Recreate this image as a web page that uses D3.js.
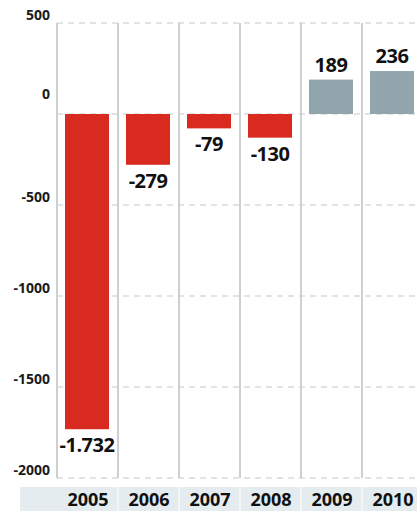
<!DOCTYPE html>
<html>
<head>
<meta charset="utf-8">
<script src="https://cdn.jsdelivr.net/npm/d3@7"></script>
<style>
  html, body { margin: 0; padding: 0; background: #fff; }
  svg { display: block; font-family: "Open Sans", sans-serif; }
</style>
</head>
<body>
<script>
// data
const years = ['2005', '2006', '2007', '2008', '2009', '2010'];
const values = [-1732, -279, -79, -130, 189, 236];
const yTicks = [500, 0, -500, -1000, -1500, -2000];

const width = 417;
const height = 511;

const svg = d3.select('body').append('svg')
  .attr('width', width)
  .attr('height', height);

// scales
const x = d3.scaleBand().domain(years).range([57, 57 + 61 * years.length]).padding(0);
const y = d3.scaleLinear().domain([-2000, 500]).range([478, 23]);

// european grouping, plain hyphen for minus
const fmt = d3.formatLocale({ decimal: ',', thousands: '.', grouping: [3], currency: ['', '€'], minus: '-' }).format(',d');

// bottom band for year labels
svg.append('rect')
  .attr('x', 20).attr('y', 487)
  .attr('width', width - 20).attr('height', height - 487)
  .attr('fill', '#e4ecef');

svg.append('g').selectAll('line')
  .data(years.slice(1))
  .join('line')
  .attr('x1', d => x(d)).attr('x2', d => x(d))
  .attr('y1', 487).attr('y2', height)
  .attr('stroke', '#f3f6f7').attr('stroke-width', 2);

// horizontal dashed grid
svg.append('g').selectAll('line')
  .data(yTicks)
  .join('line')
  .attr('x1', x.range()[0]).attr('x2', width)
  .attr('y1', d => y(d)).attr('y2', d => y(d))
  .attr('stroke', '#c4c7c9')
  .attr('stroke-width', 1.2)
  .attr('stroke-dasharray', '6,5');

// vertical column lines
svg.append('g').selectAll('line')
  .data(years)
  .join('line')
  .attr('x1', d => x(d)).attr('x2', d => x(d))
  .attr('y1', y(500)).attr('y2', y(-2000))
  .attr('stroke', '#cdd0d2')
  .attr('stroke-width', 2);

// y labels
svg.append('g').selectAll('text')
  .data(yTicks)
  .join('text')
  .attr('x', 50)
  .attr('y', d => y(d) + (d === 0 ? -15 : -3))
  .attr('text-anchor', 'end')
  .attr('font-size', 14)
  .attr('font-weight', 700)
  .attr('fill', '#1a1a1a')
  .text(d => d);

// bars
const inset = 8;
svg.append('g').selectAll('rect')
  .data(values)
  .join('rect')
  .attr('x', (d, i) => x(years[i]) + inset)
  .attr('width', x.bandwidth() - inset * 2 - 1)
  .attr('y', d => y(Math.max(0, d)))
  .attr('height', d => Math.abs(y(d) - y(0)))
  .attr('fill', d => d < 0 ? '#d92a1f' : '#91a5ac');

// value labels
svg.append('g').selectAll('text')
  .data(values)
  .join('text')
  .attr('x', (d, i) => x(years[i]) + x.bandwidth() / 2 - 0.5)
  .attr('y', d => d < 0 ? y(d) + 23 : y(d) - 8)
  .attr('text-anchor', 'middle')
  .attr('font-size', 20)
  .attr('font-weight', 700)
  .attr('letter-spacing', -0.5)
  .attr('fill', '#111')
  .text(d => fmt(d));

// year labels
svg.append('g').selectAll('text')
  .data(years)
  .join('text')
  .attr('x', d => x(d) + x.bandwidth() / 2 + 0.5)
  .attr('y', 506)
  .attr('text-anchor', 'middle')
  .attr('font-size', 18)
  .attr('font-weight', 700)
  .attr('fill', '#111')
  .text(d => d);
</script>
</body>
</html>
